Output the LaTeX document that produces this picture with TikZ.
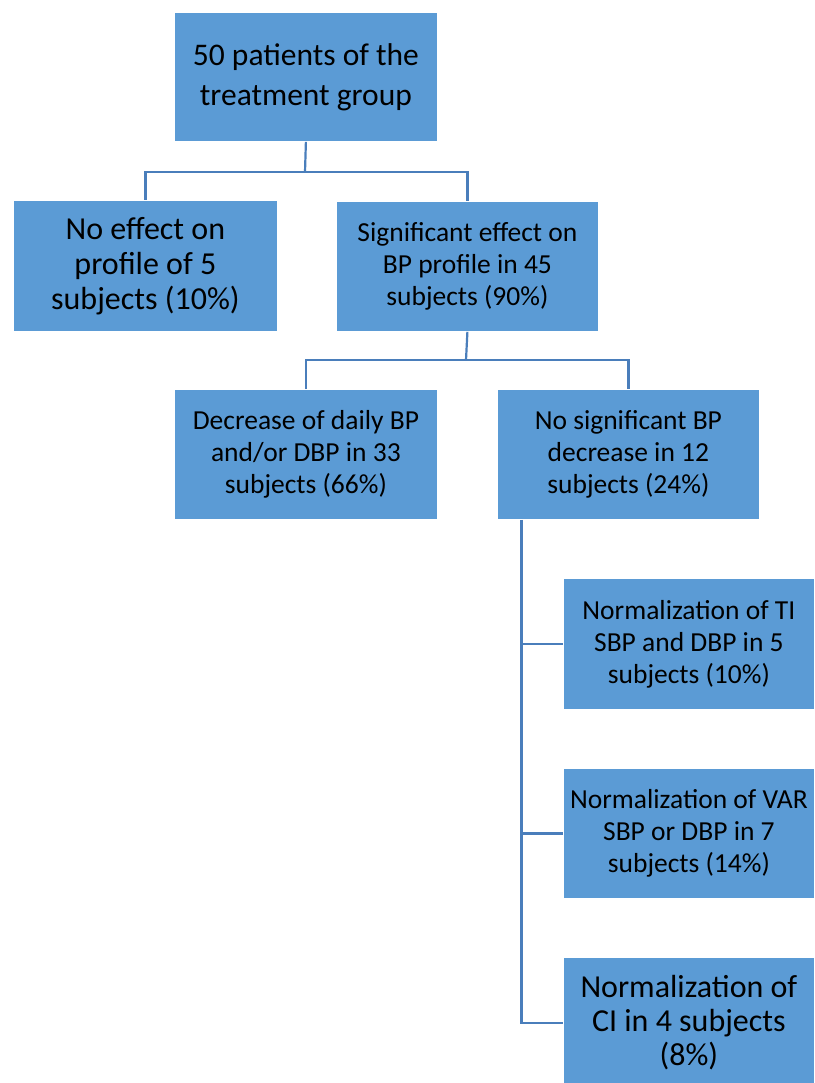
\documentclass[tikz,border=0pt]{standalone}
\usepackage{fontspec}
\setmainfont{Carlito}
\begin{document}
\begin{tikzpicture}[x=1pt,y=-1pt,
  box/.style={fill=boxblue,draw=white,line width=0.8pt,anchor=north west,inner sep=0pt,align=center},
  small/.style={font=\fontsize{27.5}{32}\selectfont},
  large/.style={font=\fontsize{32}{35}\selectfont},
  conn/.style={draw=lineblue,line width=2.2pt}]
\definecolor{boxblue}{HTML}{5B9BD5}
\definecolor{lineblue}{HTML}{4A7EBB}
\useasboundingbox (0,0) rectangle (814,1083);
% boxes
\node[box,minimum width=263pt,minimum height=129pt,font=\fontsize{31.5}{40}\selectfont] (a) at (174,12) {50 patients of the\\treatment group};
\node[box,large,minimum width=264pt,minimum height=131pt] (b) at (13,200) {No effect on\\profile of 5\\subjects (10\%)};
\node[box,small,minimum width=262pt,minimum height=130pt] (c) at (336,201) {Significant effect on\\BP profile in 45\\subjects (90\%)};
\node[box,small,minimum width=263pt,minimum height=130pt] (d) at (174,389) {Decrease of daily BP\\and/or DBP in 33\\subjects (66\%)};
\node[box,small,minimum width=262pt,minimum height=130pt] (e) at (497,389) {No significant BP\\decrease in 12\\subjects (24\%)};
\node[box,small,minimum width=251pt,minimum height=131pt] (f) at (563,578) {Normalization of TI\\SBP and DBP in 5\\subjects (10\%)};
\node[box,small,minimum width=251pt,minimum height=130pt] (g) at (563,768) {Normalization of VAR\\SBP or DBP in 7\\subjects (14\%)};
\node[box,minimum width=251pt,minimum height=130pt,font=\fontsize{32}{34}\selectfont] (h) at (563,957) {Normalization of\\CI in 4 subjects\\(8\%)};
% connectors
\coordinate (j1) at (305,172);
\coordinate (j2) at (466,360);
\draw[conn] (a.south) -- (j1);
\draw[conn] (b.north) |- (j1) -| (c.north);
\draw[conn] (c.south) -- (j2);
\draw[conn] (d.north) |- (j2) -| (e.north);
\coordinate (v0) at ([xshift=-107pt]e.south);
\coordinate (hw) at (h.west |- 0,1023);
\draw[conn] (v0) |- (hw);
\draw[conn] (v0 |- f.west) -- (f.west);
\draw[conn] (v0 |- g.west) -- (g.west);
\end{tikzpicture}
\end{document}
